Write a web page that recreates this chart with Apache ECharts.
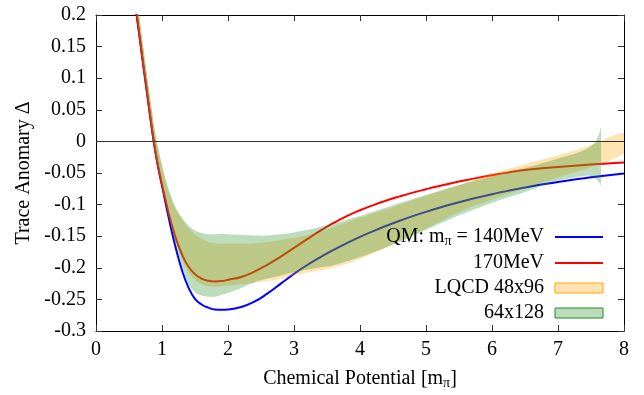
<!DOCTYPE html>
<html>
<head>
<meta charset="utf-8">
<script src="https://cdn.jsdelivr.net/npm/echarts@6/dist/echarts.min.js"></script>
<style>
  html, body { margin: 0; padding: 0; background: #fff; }
  #chart { width: 644px; height: 395px; }
</style>
</head>
<body>
<div id="chart"></div>
<script>
// Quark-meson model: trace anomaly vs chemical potential (units of m_pi)
const qmX = [0.55, 0.6, 0.65, 0.7, 0.75, 0.8, 0.85, 0.9, 0.95,
             1.0, 1.1, 1.2, 1.3, 1.4, 1.5, 1.6, 1.7, 1.8, 1.9,
             2.0, 2.2, 2.4, 2.6, 2.8, 3.0, 3.2, 3.4, 3.6, 3.8,
             4.0, 4.2, 4.4, 4.6, 4.8, 5.0, 5.2, 5.4, 5.6, 5.8,
             6.0, 6.2, 6.4, 6.6, 6.8, 7.0, 7.2, 7.4, 7.6, 7.8, 8.0];
const qm140 = [0.255, 0.213, 0.174, 0.134, 0.095, 0.056, 0.018, -0.016, -0.045,
               -0.070, -0.120, -0.165, -0.203, -0.231, -0.249, -0.258, -0.263, -0.266, -0.2665,
               -0.266, -0.262, -0.2535, -0.2405, -0.225, -0.2096, -0.1956, -0.183, -0.1715, -0.1609,
               -0.1511, -0.142, -0.1335, -0.1256, -0.1183, -0.1115, -0.1051, -0.0991, -0.0935, -0.0883,
               -0.0835, -0.0791, -0.075, -0.0711, -0.0675, -0.0642, -0.0611, -0.0582, -0.0555, -0.053, -0.0507];
const qm170 = [0.255, 0.213, 0.174, 0.134, 0.095, 0.056, 0.018, -0.016, -0.044,
               -0.068, -0.113, -0.150, -0.178, -0.198, -0.210, -0.217, -0.2205, -0.2215, -0.221,
               -0.219, -0.2145, -0.206, -0.195, -0.1823, -0.1686, -0.1547, -0.1413, -0.129, -0.1182,
               -0.1089, -0.1008, -0.0935, -0.087, -0.081, -0.0756, -0.0705, -0.0658, -0.0614, -0.0573,
               -0.0535, -0.0498, -0.0465, -0.0442, -0.0422, -0.0404, -0.0388, -0.0373, -0.0359, -0.0345, -0.0332];

// Lattice QCD error bands, 48x96 lattice
const lq48X  = [0.55, 0.6, 0.7, 0.8, 0.9, 1.0, 1.1, 1.2, 1.3, 1.4, 1.5, 1.6, 1.7, 1.8, 1.9, 2.0, 2.2, 2.4, 2.6, 2.8,
                3.0, 3.3, 3.6, 4.0, 4.5, 5.0, 5.5, 6.0, 6.5, 7.0, 7.5, 8.0];
const lq48Hi = [0.285, 0.245, 0.163, 0.085, 0.012, -0.038, -0.078, -0.105, -0.123, -0.137, -0.147, -0.154, -0.159, -0.161,
                -0.162, -0.162, -0.162, -0.161, -0.159, -0.156, -0.153, -0.146, -0.136, -0.121, -0.104, -0.086, -0.069,
                -0.051, -0.036, -0.022, -0.006, 0.013];
const lq48Lo = [0.250, 0.210, 0.132, 0.052, -0.020, -0.070, -0.115, -0.155, -0.186, -0.207, -0.219, -0.226, -0.229, -0.230,
                -0.229, -0.228, -0.226, -0.224, -0.221, -0.217, -0.212, -0.206, -0.200, -0.186, -0.163, -0.138, -0.112,
                -0.092, -0.074, -0.057, -0.041, -0.018];

// Lattice QCD error bands, 64x128 lattice
const lq64X  = [0.55, 0.6, 0.7, 0.8, 0.9, 1.0, 1.1, 1.2, 1.3, 1.4, 1.5, 1.6, 1.7, 1.8, 1.9, 2.0, 2.2, 2.4, 2.6, 2.8,
                3.0, 3.3, 3.6, 4.0, 4.5, 5.0, 5.5, 6.0, 6.5, 7.0, 7.3, 7.45, 7.55, 7.6, 7.63, 7.65];
const lq64Hi = [0.285, 0.245, 0.163, 0.085, 0.012, -0.038, -0.076, -0.103, -0.120, -0.133, -0.141, -0.145, -0.147, -0.147,
                -0.146, -0.147, -0.148, -0.149, -0.149, -0.147, -0.144, -0.138, -0.130, -0.118, -0.101, -0.085, -0.069,
                -0.055, -0.042, -0.027, -0.018, -0.011, -0.003, 0.006, 0.014, 0.022];
const lq64Lo = [0.250, 0.210, 0.132, 0.052, -0.020, -0.070, -0.118, -0.162, -0.198, -0.226, -0.239, -0.244, -0.246, -0.246,
                -0.243, -0.240, -0.232, -0.223, -0.217, -0.212, -0.207, -0.201, -0.196, -0.183, -0.163, -0.140, -0.117,
                -0.097, -0.080, -0.062, -0.056, -0.054, -0.057, -0.062, -0.066, -0.071];

// Axis ranges
const xMin = 0, xMax = 8, xStep = 1;
const yMin = -0.3, yMax = 0.2, yStep = 0.05;

const N140 = 'QM: mπ = 140MeV';
const N170 = '170MeV';
const N48 = 'LQCD 48x96';
const N64 = '64x128';

const FONT = 'Liberation Serif';

const pairs = (xs, ys) => xs.map((x, i) => [x, ys[i]]);

// Filled band between lo and hi, drawn as one polygon in data coordinates
function bandSeries(name, xs, lo, hi, fill) {
  return {
    type: 'custom',
    name: name,
    clip: true,
    z: 3,
    silent: true,
    data: xs.map((x, i) => [x, lo[i], hi[i]]),
    encode: { x: 0, y: [1, 2] },
    renderItem: function (params, api) {
      if (params.dataIndex !== 0) return null;
      const upper = xs.map((x, i) => api.coord([x, hi[i]]));
      const lower = xs.map((x, i) => api.coord([x, lo[i]])).reverse();
      return {
        type: 'polygon',
        shape: { points: upper.concat(lower), smooth: 0.25 },
        style: { fill: fill, stroke: null }
      };
    }
  };
}

function lineSeries(name, ys, color) {
  return {
    type: 'line',
    name: name,
    data: pairs(qmX, ys),
    smooth: 0.5,
    symbol: 'none',
    z: 2,
    silent: true,
    lineStyle: { color: color, width: 2 },
    itemStyle: { color: color }
  };
}

const axisLine = { show: true, onZero: false, lineStyle: { color: '#000', width: 1 } };
const axisTick = { show: true, inside: true, length: 6, lineStyle: { color: '#333', width: 1 } };

const chart = echarts.init(document.getElementById('chart'), null, { renderer: 'canvas' });

const s140 = lineSeries(N140, qm140, '#0000ff');
s140.markLine = {
  silent: true,
  symbol: 'none',
  label: { show: false },
  lineStyle: { color: '#333', width: 1, type: 'solid' },
  data: [{ yAxis: 0 }]
};

chart.setOption({
  animation: false,
  backgroundColor: '#fff',
  grid: { left: 96, right: 20, top: 15, bottom: 63 },
  xAxis: [
    {
      type: 'value', min: xMin, max: xMax, interval: xStep, position: 'bottom',
      name: '{a|Chemical Potential [m}{b|π}{a|]}',
      nameLocation: 'middle', nameGap: 37,
      nameTextStyle: {
        rich: {
          a: { fontFamily: FONT, fontSize: 20, color: '#000', lineHeight: 22 },
          b: { fontFamily: FONT, fontSize: 14, color: '#000', lineHeight: 14, verticalAlign: 'bottom' }
        }
      },
      axisLine: axisLine, axisTick: axisTick,
      axisLabel: { fontFamily: FONT, fontSize: 20, color: '#000', margin: 9 },
      splitLine: { show: false }
    },
    {
      type: 'value', min: xMin, max: xMax, interval: xStep, position: 'top',
      axisLine: axisLine, axisTick: axisTick,
      axisLabel: { show: false }, splitLine: { show: false }
    }
  ],
  yAxis: [
    {
      type: 'value', min: yMin, max: yMax, interval: yStep, position: 'left',
      name: 'Trace Anomary Δ',
      nameLocation: 'middle', nameGap: 58,
      nameTextStyle: { fontFamily: FONT, fontSize: 20, color: '#000' },
      axisLine: axisLine, axisTick: axisTick,
      axisLabel: { fontFamily: FONT, fontSize: 20, color: '#000', margin: 10 },
      splitLine: { show: false }
    },
    {
      type: 'value', min: yMin, max: yMax, interval: yStep, position: 'right',
      axisLine: axisLine, axisTick: axisTick,
      axisLabel: { show: false }, splitLine: { show: false }
    }
  ],
  legend: {
    orient: 'vertical',
    right: 40,
    top: 227,
    align: 'right',
    itemWidth: 48,
    itemHeight: 10,
    itemGap: 5,
    padding: 0,
    selectedMode: false,
    data: [
      { name: N140, itemStyle: { opacity: 0 } },
      { name: N170, itemStyle: { opacity: 0 } },
      { name: N48, icon: 'rect', itemStyle: { color: 'rgba(255,165,0,0.3)', borderColor: '#ffa500', borderWidth: 1, opacity: 1 } },
      { name: N64, icon: 'rect', itemStyle: { color: 'rgba(34,139,34,0.3)', borderColor: '#228b22', borderWidth: 1, opacity: 1 } }
    ],
    formatter: function (name) {
      if (name === N140) return '{n|QM: m}{s|π}{n| = 140MeV}';
      return '{n|' + name + '}';
    },
    textStyle: {
      fontFamily: FONT, fontSize: 20, color: '#000', padding: [0, 6, 0, 0],
      rich: {
        n: { fontFamily: FONT, fontSize: 20, color: '#000', lineHeight: 22 },
        s: { fontFamily: FONT, fontSize: 14, color: '#000', lineHeight: 14, verticalAlign: 'bottom' }
      }
    }
  },
  series: [
    s140,
    lineSeries(N170, qm170, '#ff0000'),
    bandSeries(N48, lq48X, lq48Lo, lq48Hi, 'rgba(255,165,0,0.3)'),
    bandSeries(N64, lq64X, lq64Lo, lq64Hi, 'rgba(34,139,34,0.3)')
  ]
});
</script>
</body>
</html>
